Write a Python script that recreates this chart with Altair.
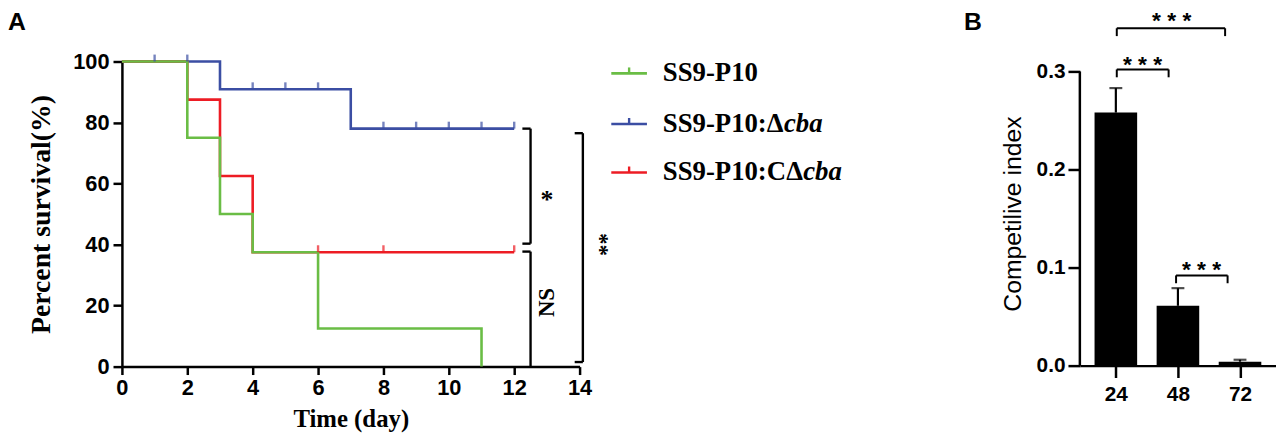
import altair as alt
import pandas as pd

# ---------------- Panel A data (Kaplan-Meier survival) ----------------
green_day = [0, 2, 3, 4, 6, 11]
green_surv = [100, 75, 50, 37.5, 12.5, 0]
blue_day = [0, 3, 7, 12]
blue_surv = [100, 90.9, 78, 78]
red_day = [0, 2, 3, 4, 12]
red_surv = [100, 87.5, 62.5, 37.5, 37.5]
blue_cens_day = [1, 2, 4, 5, 6, 8, 9, 10, 11, 12]
blue_cens_surv = [100, 100, 90.9, 90.9, 90.9, 78, 78, 78, 78, 78]
red_cens_day = [6, 8, 12]
red_cens_surv = [37.5, 37.5, 37.5]
x_ticks_a = [0, 2, 4, 6, 8, 10, 12, 14]
y_ticks_a = [0, 20, 40, 60, 80, 100]

# ---------------- Panel B data (competitive index) ----------------
hours = ["24", "48", "72"]
ci_mean = [0.258, 0.061, 0.004]
ci_upper = [0.283, 0.079, 0.006]
y_ticks_b = [0.0, 0.1, 0.2, 0.3]

GREEN = "#6abd45"
BLUE = "#3b4ea3"
RED = "#ed1c24"
SERIF = "Liberation Serif"
SANS = "Liberation Sans"

dummy = pd.DataFrame({"k": [0]})


def ptext(txt, x, y, **kw):
    return alt.Chart(dummy).mark_text(text=txt, **kw).encode(x=alt.value(x), y=alt.value(y))


# ================= Panel A =================
WA, HA = 462, 308
xa = alt.Scale(domain=[0, 14], nice=False, zero=False)
ya = alt.Scale(domain=[0, 100], nice=False)

axis_xa = alt.Axis(values=x_ticks_a, title="Time (day)", titleFont=SERIF, titleFontWeight="bold",
                   titleFontSize=25, titlePadding=8, labelFont=SANS, labelFontWeight="bold",
                   labelFontSize=22, labelPadding=3, tickSize=8, tickWidth=2.5, domainWidth=2.5,
                   labelFlush=False, grid=False)
axis_ya = alt.Axis(values=y_ticks_a, title="Percent survival(%)", titleFont=SERIF,
                   titleFontWeight="bold", titleFontSize=28, titlePadding=17, labelFont=SANS,
                   labelFontWeight="bold", labelFontSize=22, labelPadding=4, tickSize=9,
                   tickWidth=2.5, domainWidth=2.5, labelFlush=False, grid=False)


def XA(f):
    return alt.X(f, scale=xa, axis=axis_xa)


def YA(f):
    return alt.Y(f, scale=ya, axis=axis_ya)


df_lines = pd.concat([
    pd.DataFrame({"day": blue_day, "surv": blue_surv, "s": "blue"}),
    pd.DataFrame({"day": red_day, "surv": red_surv, "s": "red"}),
    pd.DataFrame({"day": green_day, "surv": green_surv, "s": "green"}),
])

layers_a = []
for s, c in [("blue", BLUE), ("red", RED), ("green", GREEN)]:
    layers_a.append(
        alt.Chart(df_lines).transform_filter(alt.datum.s == s)
        .mark_line(interpolate="step-after", color=c, strokeWidth=2.6)
        .encode(x=XA("day:Q"), y=YA("surv:Q"))
    )

df_cens = pd.concat([
    pd.DataFrame({"day": blue_cens_day, "surv": blue_cens_surv, "s": "blue"}),
    pd.DataFrame({"day": red_cens_day, "surv": red_cens_surv, "s": "red"}),
])
for s, c in [("blue", BLUE), ("red", RED)]:
    layers_a.append(
        alt.Chart(df_cens).transform_filter(alt.datum.s == s)
        .mark_tick(orient="vertical", size=7, thickness=2.4, yOffset=-3.5, color=c)
        .encode(x=XA("day:Q"), y=YA("surv:Q"))
    )

# significance brackets (data units)
segs_a = [
    (12.5, 12.5, 40.3, 78), (12.25, 12.5, 78, 78), (12.25, 12.5, 40.3, 40.3),
    (12.5, 12.5, 0, 37.7), (12.25, 12.5, 37.7, 37.7),
    (14.1, 14.1, 1.5, 76.5), (13.85, 14.1, 76.5, 76.5), (13.85, 14.1, 1.5, 1.5),
]
df_segs_a = pd.DataFrame(segs_a, columns=["day", "day2", "surv", "surv2"])
layers_a.append(
    alt.Chart(df_segs_a).mark_rule(color="black", strokeWidth=2.4)
    .encode(x=XA("day:Q"), x2="day2:Q", y=YA("surv:Q"), y2="surv2:Q")
)
df_sig_a = pd.DataFrame({"day": [13.0, 13.0, 14.85], "surv": [56, 21, 40],
                         "t": ["*", "NS", "**"], "a": [0, 270, 270]})
layers_a.append(
    alt.Chart(df_sig_a).transform_filter(alt.datum.a == 0)
    .mark_text(font=SERIF, fontWeight="bold", fontSize=26, baseline="middle", dy=4)
    .encode(x=XA("day:Q"), y=YA("surv:Q"), text="t:N")
)
layers_a.append(
    alt.Chart(df_sig_a).transform_filter(alt.datum.a == 270)
    .mark_text(font=SERIF, fontWeight="bold", fontSize=23, angle=270, baseline="middle",
               align="center")
    .encode(x=XA("day:Q"), y=YA("surv:Q"), text="t:N")
)

# custom legend (pixel positions relative to plot area)
LX0, LX1, TX = 494, 530, 546
rows = [(12, GREEN), (63, BLUE), (112, RED)]
for ry, c in rows:
    layers_a.append(alt.Chart(dummy).mark_rule(color=c, strokeWidth=2.6)
                    .encode(x=alt.value(LX0), x2=alt.value(LX1), y=alt.value(ry)))
    layers_a.append(alt.Chart(dummy).mark_rule(color=c, strokeWidth=2.4)
                    .encode(x=alt.value((LX0 + LX1) / 2), y=alt.value(ry - 6), y2=alt.value(ry)))
FS = 27
lt = dict(font=SERIF, fontWeight="bold", fontSize=FS, align="left", baseline="middle")
layers_a.append(ptext("SS9-P10", TX, rows[0][0], **lt))
w1 = 3.889 * FS
layers_a.append(ptext("SS9-P10:", TX, rows[1][0], **lt))
layers_a.append(ptext("Δ", TX + w1, rows[1][0], **lt))
layers_a.append(ptext("cba", TX + w1 + 0.64 * FS, rows[1][0], fontStyle="italic", **lt))
w2 = 4.611 * FS
layers_a.append(ptext("SS9-P10:C", TX, rows[2][0], **lt))
layers_a.append(ptext("Δ", TX + w2, rows[2][0], **lt))
layers_a.append(ptext("cba", TX + w2 + 0.64 * FS, rows[2][0], fontStyle="italic", **lt))

layers_a.append(ptext("A", -115, -52, font=SANS, fontWeight="bold", fontSize=25,
                      align="left", baseline="top"))

panel_a = alt.layer(*layers_a).properties(width=WA, height=HA)

# ================= Panel B =================
WB, HB = 198, 307
ytop = 0.3 * HB / 297
xb = alt.Scale(domain=[0, 3], nice=False, zero=False)
yb = alt.Scale(domain=[0, ytop], nice=False, zero=True)

df_b = pd.DataFrame({"hour": hours, "ci": ci_mean, "upper": ci_upper})
df_b["pos"] = [i + 0.5 for i in range(len(hours))]
label_expr = "[" + ",".join(f"'{h}'" for h in hours) + "][floor(datum.value)]"

axis_xb = alt.Axis(values=list(df_b["pos"]), labelExpr=label_expr, title=None, labelFont=SANS,
                   labelFontWeight="bold", labelFontSize=21, labelPadding=6, tickSize=12,
                   tickWidth=2.5, domainWidth=2.5, grid=False)
axis_yb = alt.Axis(values=y_ticks_b, format=".1f", title="Competilive index", titleFont=SANS,
                   titleFontWeight="normal", titleFontSize=25, titlePadding=11, labelFont=SANS,
                   labelFontWeight="bold", labelFontSize=21, labelPadding=3, tickSize=12,
                   tickWidth=2.5, domain=False, grid=False)


def XB(f):
    return alt.X(f, scale=xb, axis=axis_xb)


def YB(f):
    return alt.Y(f, scale=yb, axis=axis_yb)


bars = alt.Chart(df_b).mark_bar(size=43, color="black", orient="vertical").encode(
    x=XB("pos:Q"), y=YB("ci:Q"))
err = alt.Chart(df_b).mark_rule(color="black", strokeWidth=2.2).encode(
    x=XB("pos:Q"), y=YB("ci:Q"), y2="upper:Q")
cap = alt.Chart(df_b).mark_tick(orient="horizontal", size=13, thickness=2.2, color="black").encode(
    x=XB("pos:Q"), y=YB("upper:Q"))
yline = alt.Chart(pd.DataFrame({"ci": [min(y_ticks_b)], "ci2": [max(y_ticks_b)]})).mark_rule(
    color="black", strokeWidth=2.5).encode(x=alt.value(0), y=YB("ci:Q"), y2="ci2:Q")
segs_b = [
    (0.515, 2.26, 0.344, 0.344), (0.515, 0.515, 0.336, 0.344), (2.26, 2.26, 0.336, 0.344),
    (0.515, 1.35, 0.302, 0.302), (0.515, 0.515, 0.294, 0.302), (1.35, 1.35, 0.294, 0.302),
    (1.47, 2.30, 0.092, 0.092), (1.47, 1.47, 0.084, 0.092), (2.30, 2.30, 0.084, 0.092),
]
df_segs_b = pd.DataFrame(segs_b, columns=["pos", "pos2", "ci", "ci2"])
brk_b = alt.Chart(df_segs_b).mark_rule(color="black", strokeWidth=2).encode(
    x=XB("pos:Q"), x2="pos2:Q", y=YB("ci:Q"), y2="ci2:Q")
df_sig_b = pd.DataFrame({"pos": [1.40, 0.93, 1.88], "ci": [0.357, 0.313, 0.103],
                         "t": ["* * *", "* * *", "* * *"]})
sig_b = alt.Chart(df_sig_b).mark_text(font=SANS, fontWeight="bold", fontSize=23,
                                      baseline="alphabetic", dy=13).encode(
    x=XB("pos:Q"), y=YB("ci:Q"), text="t:N")
lab_b = ptext("B", -117, -52, font=SANS, fontWeight="bold", fontSize=25, align="left",
              baseline="top")

panel_b = alt.layer(bars, err, cap, yline, brk_b, sig_b, lab_b).properties(width=WB, height=HB)

chart = alt.hconcat(panel_a, panel_b, spacing=505, bounds="flush").properties(
    padding=0
).configure_view(stroke=None).configure_axis(
    grid=False, domainColor="black", tickColor="black", labelColor="black", titleColor="black"
)

chart.save("out.html", embed_options={"renderer": "svg", "actions": False})
